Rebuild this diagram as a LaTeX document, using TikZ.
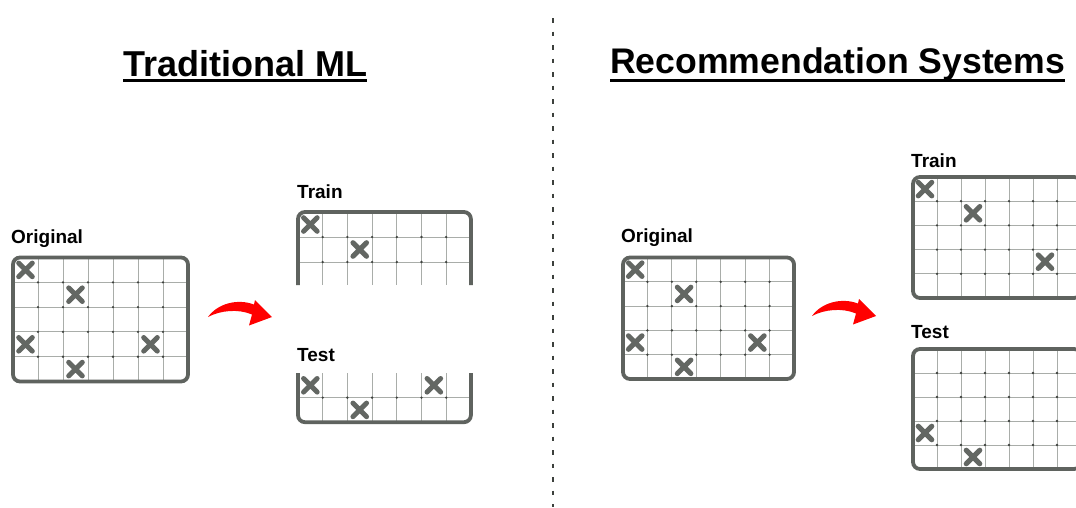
\documentclass[tikz,border=0pt]{standalone}
\usepackage{fontspec}
\setmainfont{Liberation Sans}
\definecolor{framegray}{HTML}{5F635F}
\definecolor{gridgray}{HTML}{A9ADA9}
\definecolor{dotgray}{HTML}{3F423F}
\definecolor{xgray}{HTML}{636763}
\definecolor{divgray}{HTML}{3C403C}
\definecolor{arrowred}{HTML}{FF0000}
\tikzset{
  frame/.style={draw=framegray, line width=3.8pt, rounded corners=7pt},
  gridline/.style={draw=gridgray, line width=1pt},
  dot/.style={fill=dotgray},
  xstroke/.style={draw=xgray, line width=5pt, line cap=round},
  lbl/.style={font=\bfseries\fontsize{19}{19}\selectfont, inner sep=0pt, anchor=base west},
  title/.style={font=\bfseries\fontsize{36}{36}\selectfont, inner sep=0pt, anchor=base west},
  uline/.style={draw=black, line width=2.4pt},
  divider/.style={draw=divgray, line width=2pt, dash pattern=on 4.5pt off 9pt},
  xmark/.pic={\draw[xstroke] (-6.8pt,-6.8pt) -- (6.8pt,6.8pt) (-6.8pt,6.8pt) -- (6.8pt,-6.8pt);},
  redarrow/.pic={\fill[arrowred] (0pt,0pt) .. controls (10pt,14pt) and (30pt,18.5pt) .. (46pt,12.5pt)
      -- (47pt,17pt) -- (64pt,0pt) -- (41pt,-8.5pt) -- (44pt,2.5pt)
      .. controls (30pt,8.5pt) and (12pt,6.5pt) .. (0pt,0pt) -- cycle;}
}
\begin{document}
\begin{tikzpicture}[x=1pt,y=-1pt]
\useasboundingbox (0,0) rectangle (1076,507);
\fill[white] (0,0) rectangle (1076,507);

% titles
\node[title] (t1) at (123,76) {Traditional ML};
\draw[uline] ([yshift=-4.5pt]t1.base west) -- ([yshift=-4.5pt]t1.base east);
\node[title, font=\bfseries\fontsize{35.6}{36}\selectfont] (t2) at (610,73.5) {Recommendation Systems};
\draw[uline] ([yshift=-7pt]t2.base west) -- ([yshift=-7pt]t2.base east);

% divider
\coordinate (dtop) at (553,18);
\coordinate (dbot) at (553,507);
\draw[divider] (dtop) -- (dbot);

% labels
\node[lbl] (origL) at (11,243) {Original};
\node[lbl] (trainL) at (297,198) {Train};
\node[lbl] (testL) at (297,361) {Test};
\node[lbl] (origR) at (621,242) {Original};
\node[lbl] (trainR) at (911,167) {Train};
\node[lbl] (testR) at (911,338) {Test};

% arrows
\pic at (208,317) {redarrow};
\pic at (812,316) {redarrow};

% ---- Left original
\begin{scope}[shift={(13,257.5)}, x=25pt, y=-24.8pt]
  \foreach \i in {1,...,6} \draw[gridline] (\i,0) -- (\i,5);
  \foreach \j in {1,...,4} \draw[gridline] (0,\j) -- (7,\j);
  \foreach \i in {1,...,6} \foreach \j in {1,...,4} \fill[dot] (\i,\j) circle[radius=1.3pt];
  \draw[frame] (0,0) rectangle (7,5);
  \foreach \p in {(0.5,0.5),(2.5,1.5),(0.5,3.5),(5.5,3.5),(2.5,4.5)} \pic at \p {xmark};
\end{scope}

% ---- Left train
\begin{scope}[shift={(298,212)}, x=24.7pt, y=-25pt]
  \foreach \i in {1,...,6} \draw[gridline] (\i,0) -- (\i,2.92);
  \foreach \j in {1,2} \draw[gridline] (0,\j) -- (7,\j);
  \foreach \i in {1,...,6} \foreach \j in {1,2} \fill[dot] (\i,\j) circle[radius=1.3pt];
  \draw[frame] (0,2.92) -- (0,0) -- (7,0) -- (7,2.92);
  \foreach \p in {(0.5,0.5),(2.5,1.5)} \pic at \p {xmark};
\end{scope}

% ---- Left test
\begin{scope}[shift={(298,373)}, x=24.7pt, y=-24.6pt]
  \foreach \i in {1,...,6} \draw[gridline] (\i,0) -- (\i,2);
  \draw[gridline] (0,1) -- (7,1);
  \foreach \i in {1,...,6} \fill[dot] (\i,1) circle[radius=1.3pt];
  \draw[frame] (0,0) -- (0,2) -- (7,2) -- (7,0);
  \foreach \p in {(0.5,0.5),(5.5,0.5),(2.5,1.5)} \pic at \p {xmark};
\end{scope}

% ---- Right original
\begin{scope}[shift={(623,257.5)}, x=24.43pt, y=-24.3pt]
  \foreach \i in {1,...,6} \draw[gridline] (\i,0) -- (\i,5);
  \foreach \j in {1,...,4} \draw[gridline] (0,\j) -- (7,\j);
  \foreach \i in {1,...,6} \foreach \j in {1,...,4} \fill[dot] (\i,\j) circle[radius=1.3pt];
  \draw[frame] (0,0) rectangle (7,5);
  \foreach \p in {(0.5,0.5),(2.5,1.5),(0.5,3.5),(5.5,3.5),(2.5,4.5)} \pic at \p {xmark};
\end{scope}

% ---- Right train
\begin{scope}[shift={(913,177)}, x=24pt, y=-24.2pt]
  \foreach \i in {1,...,6} \draw[gridline] (\i,0) -- (\i,5);
  \foreach \j in {1,...,4} \draw[gridline] (0,\j) -- (7,\j);
  \foreach \i in {1,...,6} \foreach \j in {1,...,4} \fill[dot] (\i,\j) circle[radius=1.3pt];
  \draw[frame] (0,0) rectangle (7,5);
  \foreach \p in {(0.5,0.5),(2.5,1.5),(5.5,3.5)} \pic at \p {xmark};
\end{scope}

% ---- Right test
\begin{scope}[shift={(913,349)}, x=24pt, y=-24pt]
  \foreach \i in {1,...,6} \draw[gridline] (\i,0) -- (\i,5);
  \foreach \j in {1,...,4} \draw[gridline] (0,\j) -- (7,\j);
  \foreach \i in {1,...,6} \foreach \j in {1,...,4} \fill[dot] (\i,\j) circle[radius=1.3pt];
  \draw[frame] (0,0) rectangle (7,5);
  \foreach \p in {(0.5,3.5),(2.5,4.5)} \pic at \p {xmark};
\end{scope}
\end{tikzpicture}
\end{document}
